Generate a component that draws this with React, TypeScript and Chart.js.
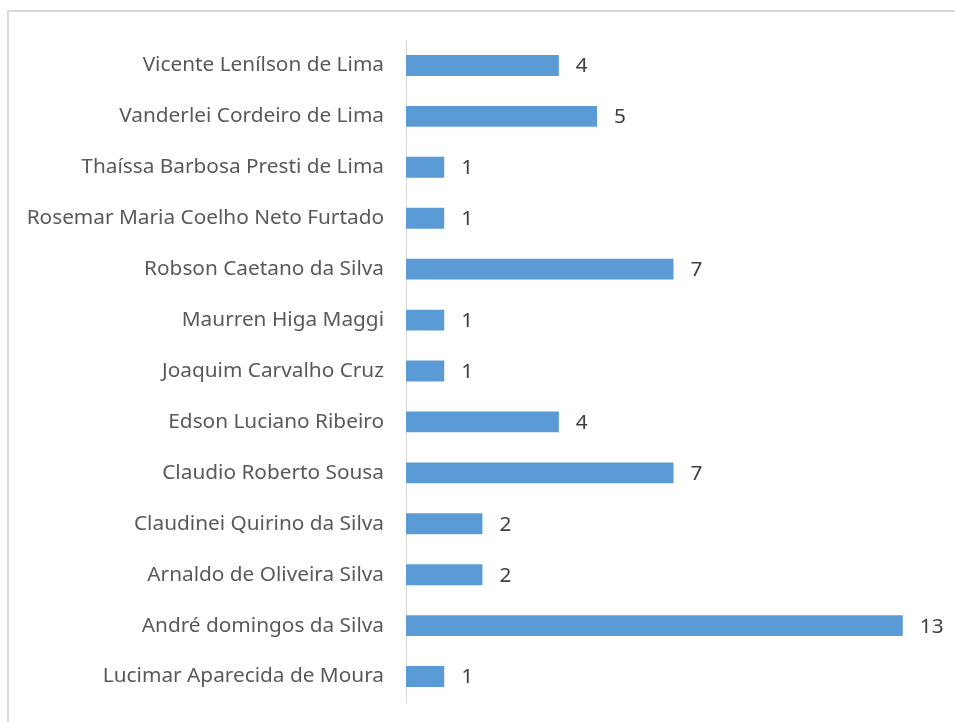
import React, { useEffect, useRef } from "react";
import { Chart, registerables } from "chart.js";

Chart.register(...registerables);

const categories = [
  "Vicente Lenílson de Lima",
  "Vanderlei Cordeiro de Lima",
  "Thaíssa Barbosa Presti de Lima",
  "Rosemar Maria Coelho Neto Furtado",
  "Robson Caetano da Silva",
  "Maurren Higa Maggi",
  "Joaquim Carvalho Cruz",
  "Edson Luciano Ribeiro",
  "Claudio Roberto Sousa",
  "Claudinei Quirino da Silva",
  "Arnaldo de Oliveira Silva",
  "André domingos da Silva",
  "Lucimar Aparecida de Moura",
];
const values = [4, 5, 1, 1, 7, 1, 1, 4, 7, 2, 2, 13, 1];
const xMax = 14;

const FONT = "'Noto Sans', 'Open Sans', sans-serif";
const FONT_SIZE = 20.8;

const valueLabels = {
  id: "valueLabels",
  afterDatasetsDraw(chart: any) {
    const ctx = chart.ctx;
    const meta = chart.getDatasetMeta(0);
    ctx.save();
    ctx.font = `${FONT_SIZE}px ${FONT}`;
    ctx.fillStyle = "#404040";
    ctx.textAlign = "left";
    ctx.textBaseline = "middle";
    meta.data.forEach((bar: any, i: number) => {
      ctx.fillText(String(values[i]), bar.x + 17, bar.y + 1);
    });
    ctx.restore();
  },
};

const frame = {
  id: "frame",
  beforeDraw(chart: any) {
    const ctx = chart.ctx;
    ctx.save();
    ctx.strokeStyle = "#d9d9d9";
    ctx.lineWidth = 2;
    ctx.beginPath();
    ctx.moveTo(8, chart.height);
    ctx.lineTo(8, 11);
    ctx.lineTo(chart.width, 11);
    ctx.stroke();
    ctx.restore();
  },
};

export default function App() {
  const ref = useRef<HTMLCanvasElement | null>(null);
  useEffect(() => {
    document.body.style.overflow = "hidden";
    const chart = new Chart(ref.current!, {
      type: "bar",
      data: {
        labels: categories,
        datasets: [
          {
            data: values,
            backgroundColor: "#5b9bd5",
            borderWidth: 0,
            categoryPercentage: 1,
            barPercentage: 0.41,
          },
        ],
      },
      options: {
        indexAxis: "y",
        animation: false,
        responsive: false,
        maintainAspectRatio: false,
        devicePixelRatio: 1,
        layout: { padding: { top: 40, bottom: 20, right: 14, left: 0 } },
        plugins: {
          legend: { display: false },
          tooltip: { enabled: false },
        },
        scales: {
          x: { display: false, min: 0, max: xMax },
          y: {
            afterFit(scale: any) {
              scale.width = 406;
              scale.paddingTop = 0;
              scale.paddingBottom = 0;
            },
            grid: { display: false, drawTicks: false },
            border: { display: true, color: "#d9d9d9", width: 1 },
            ticks: {
              padding: 22,
              color: "#595959",
              font: { family: FONT, size: FONT_SIZE },
            },
          },
        },
      },
      plugins: [frame, valueLabels],
    });
    return () => chart.destroy();
  }, []);
  return (
    <canvas
      ref={ref}
      width={955}
      height={722}
      style={{ position: "fixed", left: 0, top: 0, width: 955, height: 722 }}
    />
  );
}
